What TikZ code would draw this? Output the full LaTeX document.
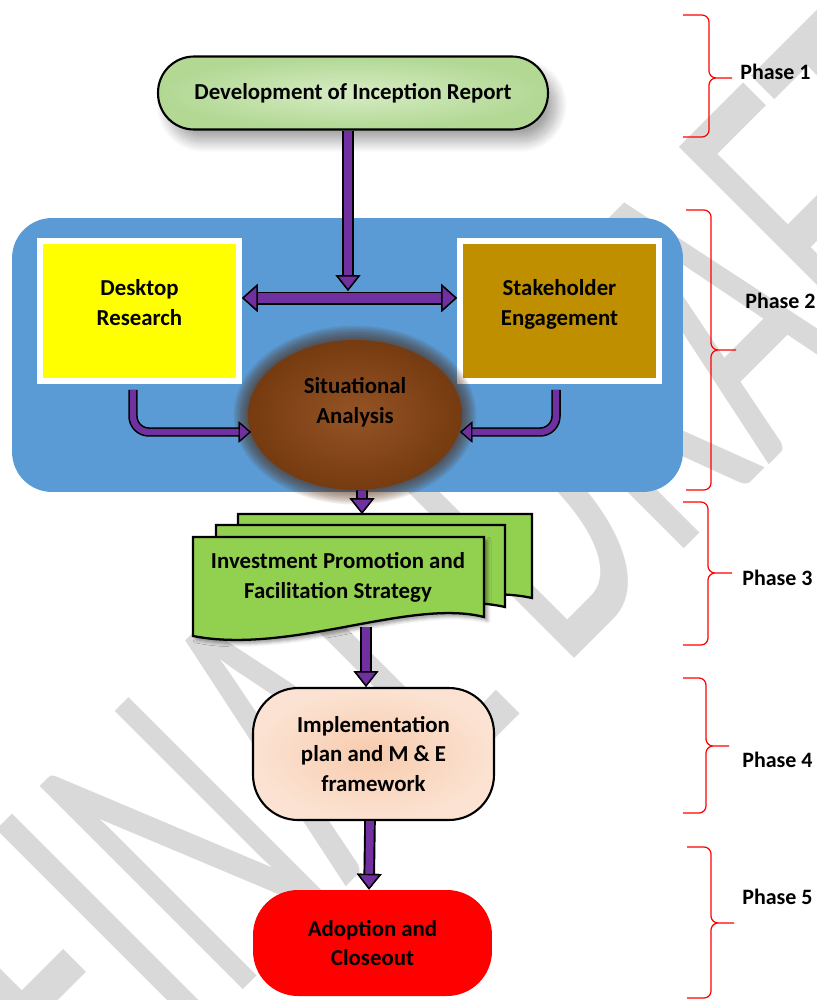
\documentclass[tikz,border=0pt]{standalone}
\usepackage{fontspec}
\setmainfont{Carlito}
\usepackage{tikz}
\usetikzlibrary{calc}
\usetikzlibrary{positioning}
\usetikzlibrary{shapes.geometric}
\usetikzlibrary{arrows.meta}
\usetikzlibrary{shadows.blur}

\definecolor{arrowpurple}{HTML}{7030A0}
\definecolor{inceptioninner}{HTML}{D6ECC4}
\definecolor{inceptionouter}{HTML}{B2D894}
\definecolor{panelblue}{HTML}{5B9BD5}
\definecolor{deskyellow}{HTML}{FFFF00}
\definecolor{stakegold}{HTML}{BF8F00}
\definecolor{situbrown}{HTML}{8B4513}
\definecolor{strategygreen}{HTML}{92D050}
\definecolor{implpeach}{HTML}{F8CBAD}
\definecolor{adoptred}{HTML}{FF0000}

\begin{document}
\begin{tikzpicture}
	[
	x=0.02cm, y=-0.02cm,
	font=\bfseries\fontsize{13}{17}\selectfont,
	fathead/.tip={Triangle[width=14pt,length=9pt,line width=0.8pt,fill=arrowpurple,color=black]},
	widehead/.tip={Triangle[width=16pt,length=9pt,line width=0.8pt,fill=arrowpurple,color=black]},
	slimhead/.tip={Triangle[width=12pt,length=7pt,line width=0.7pt,fill=arrowpurple,color=black]}
	]
	
	% Box styles
	\tikzstyle{pill}=[rounded corners=0.72cm, draw=black, line width=1.2pt, inner color=inceptioninner, outer color=inceptionouter, blur shadow={shadow xshift=5pt, shadow yshift=-7pt, shadow blur radius=6pt, shadow blur steps=20, shadow opacity=35}];
	\tikzstyle{panel}=[rounded corners=0.8cm, fill=panelblue, minimum width=13.42cm, minimum height=5.48cm];
	\tikzstyle{square box}=[draw=white, line width=3.4pt, minimum width=3.98cm, minimum height=2.8cm, align=center, text height=26.5pt, text depth=10.5pt];
	\tikzstyle{situ}=[ellipse, inner sep=0, minimum width=4.28cm, minimum height=3cm, align=center, text height=26.5pt, text depth=16.5pt, inner color=situbrown!92!white, outer color=situbrown!85!black];
	\tikzstyle{glow}=[fill=situbrown!55!black, opacity=0.09];
	\tikzstyle{sheet}=[draw=black, line width=1.3pt, fill=strategygreen];
	\tikzstyle{impl box}=[rounded corners=0.9cm, draw=black, line width=1.2pt, minimum width=4.82cm, minimum height=2.64cm, align=center, inner color=implpeach, outer color=implpeach!55!white];
	\tikzstyle{adopt box}=[rounded corners=0.9cm, fill=adoptred, minimum width=4.78cm, minimum height=2.12cm, align=center];
	% Arrow styles
	\tikzstyle{fat arrow}=[draw=arrowpurple, line width=4.4pt, -fathead, preaction={draw=black, line width=6.6pt, -fathead}];
	\tikzstyle{fat double}=[draw=arrowpurple, line width=5.2pt, widehead-widehead, preaction={draw=black, line width=7.4pt, widehead-widehead}];
	\tikzstyle{bent arrow}=[draw=arrowpurple, line width=3.6pt, rounded corners=9pt, -slimhead, preaction={draw=black, line width=5.4pt, -slimhead}];
	% Phase styles
	\tikzstyle{phase brace}=[draw=red, line width=0.7pt, rounded corners=4pt];
	\tikzstyle{phase label}=[anchor=west, inner sep=0, font=\bfseries\fontsize{12.5}{15}\selectfont];
	
	\useasboundingbox (0,0) rectangle (817,1000);
	\clip (0,0) rectangle (817,1000);
	
	% Watermark
	\node[rotate=45, xscale=0.56, text=black!15, font=\fontsize{255}{255}\selectfont] (watermark) at (470,560) {FINAL DRAFT};
	
	% Phases
	\foreach \l/\v/\t/\b/\m/\p in {683/709/15/137/78/732, 686/711/210/490/350/736, 683/708/502/645/573/732, 683/706/678/813/746/729, 687/711/847/998/923/734}
	\draw[phase brace] (\l,\t) -- (\v,\t) -- (\v,\m) -- (\p,\m) (\l,\b) -- (\v,\b) -- (\v,\m) -- (\p,\m);
	\foreach \n/\x/\y in {1/740/72, 2/745/301, 3/742/578, 4/742/760, 5/742/897}
	\node[phase label] (phase\n) at (\x,\y) {Phase \n};
	
	% Phase 1
	\node[pill, minimum width=7.8cm, minimum height=1.46cm] (inception) at (353,93) {Development of Inception Report};
	
	% Phase 2
	\node[panel] (panel) at (347.5,355) {};
	\node[square box, fill=deskyellow] (desktop) at (139.5,311) {Desktop\\Research};
	\node[square box, fill=stakegold] (stakeholder) at (559.5,311) {Stakeholder\\Engagement};
	\coordinate (situ centre) at (355,415);
	\foreach \s in {1,...,9}
	\fill[glow] (situ centre) ellipse ({107+1.6*\s} and {75+1.6*\s});
	\node[situ] (situation) at (situ centre) {Situational\\Analysis};
	
	\coordinate (junction) at (348,291);
	\coordinate (crossbar) at (348,298);
	\coordinate (left entry) at (251,432);
	\coordinate (right entry) at (460,432);
	\draw[fat arrow] (inception.south -| junction) -- (junction);
	\draw[fat double] (desktop.east |- crossbar) -- (stakeholder.west |- crossbar);
	\draw[bent arrow] ([xshift=-0.13cm, yshift=-0.12cm]desktop.south) |- (left entry);
	\draw[bent arrow] ([xshift=-0.07cm, yshift=-0.12cm]stakeholder.south) |- (right entry);
	
	% Phase 3
	\draw[sheet] (238,514) -- (532,514) -- (532,598) .. controls (460,582) and (330,622) .. (238,602) -- cycle;
	\draw[sheet] (216,525) -- (505,525) -- (505,607) .. controls (432,590) and (300,632) .. (216,614) -- cycle;
	\draw[sheet, blur shadow={shadow xshift=2pt, shadow yshift=-2pt, shadow blur radius=2pt}] (193,537) -- (484,537) -- (484,617) .. controls (410,598) and (290,655) .. (193,636) -- cycle;
	\node[align=center] (strategy) at (338,577) {Investment Promotion and\\Facilitation Strategy};
	
	\coordinate (sheets top) at (362,514);
	\coordinate (sheets bottom) at (366,627);
	\draw[fat arrow] ([xshift=0.14cm]situation.south) -- (sheets top);
	
	% Phase 4
	\node[impl box] (implementation) at (373.5,754) {Implementation\\plan and M \& E\\framework};
	\draw[fat arrow] (sheets bottom) -- (implementation.north -| sheets bottom);
	
	% Phase 5
	\node[adopt box] (adoption) at (372.5,943) {Adoption and\\Closeout};
	\draw[fat arrow] ([xshift=-0.07cm]implementation.south) -- ([xshift=-0.07cm]adoption.north);
	
\end{tikzpicture}
\end{document}
